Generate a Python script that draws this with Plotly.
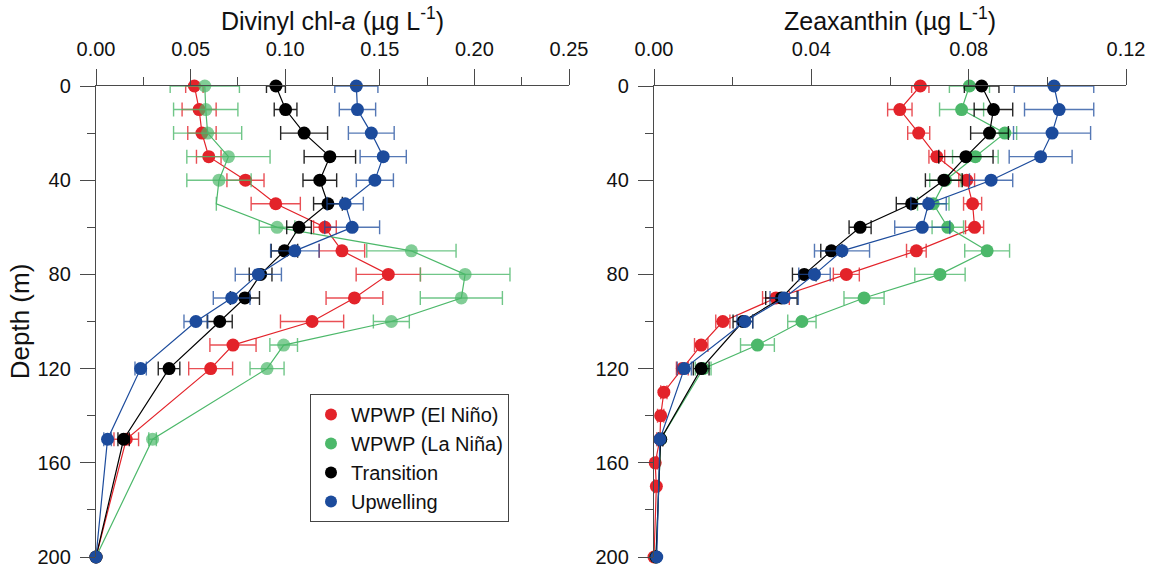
import plotly.graph_objects as go

W, H = 1157, 569

# ---- Divinyl chl-a (µg L-1) profiles ----
dv_depth_red = [0, 10, 20, 30, 40, 50, 60, 70, 80, 90, 100, 110, 120, 150, 200]
dv_red = [0.052, 0.0545, 0.056, 0.0596, 0.079, 0.095, 0.121, 0.130, 0.1545, 0.1366, 0.1142, 0.0724, 0.0606, 0.016, 0.0]
dv_red_err = [0.0046, 0.009, 0.0075, 0.0065, 0.0098, 0.013, 0.006, 0.012, 0.017, 0.015, 0.0167, 0.0122, 0.0116, 0.0065, None]

dv_depth_green = [0, 10, 20, 30, 40, 50, 60, 70, 80, 90, 100, 110, 120, 150, 200]
dv_green = [0.0575, 0.058, 0.059, 0.070, 0.065, 0.0636, 0.0957, 0.1667, 0.1951, 0.1931, 0.1561, 0.0992, 0.0904, 0.0299, 0.0]
dv_green_err = [0.0183, 0.017, 0.018, 0.022, 0.017, None, 0.0094, 0.0236, 0.0237, 0.0217, 0.0095, 0.0073, 0.009, 0.002, None]
dv_green_shown = [1, 1, 1, 1, 1, 0, 1, 1, 1, 1, 1, 1, 1, 1, 1]

dv_depth_black = [0, 10, 20, 30, 40, 50, 60, 70, 80, 90, 100, 120, 150, 200]
dv_black = [0.0951, 0.1002, 0.110, 0.1236, 0.1183, 0.1226, 0.1073, 0.0996, 0.087, 0.0787, 0.0654, 0.0386, 0.0146, 0.0]
dv_black_err = [0.005, 0.006, 0.0124, 0.0136, 0.0089, 0.0076, 0.0065, 0.007, 0.006, 0.0077, 0.0066, 0.0057, 0.003, None]

dv_depth_blue = [0, 10, 20, 30, 40, 50, 60, 70, 80, 90, 100, 120, 150, 200]
dv_blue = [0.1376, 0.1382, 0.1455, 0.1518, 0.1474, 0.1317, 0.1354, 0.1051, 0.0858, 0.0717, 0.0528, 0.0236, 0.0061, 0.0]
dv_blue_err = [0.0114, 0.0096, 0.0121, 0.0122, 0.0098, 0.0096, 0.0145, 0.0128, 0.0122, 0.0097, 0.0063, 0.003, 0.002, None]

# ---- Zeaxanthin (µg L-1) profiles ----
zx_depth_red = [0, 10, 20, 30, 40, 50, 60, 70, 80, 90, 100, 110, 120, 130, 140, 150, 160, 170, 200]
zx_red = [0.0677, 0.0625, 0.0673, 0.0719, 0.0795, 0.081, 0.0815, 0.0667, 0.0489, 0.031, 0.0175, 0.012, 0.0072,
          0.0025, 0.0017, 0.0015, 0.0003, 0.0006, 0.0]
zx_red_err = [0.0022, 0.0031, 0.0028, 0.002, 0.002, 0.0023, 0.0023, 0.0025, 0.0033, 0.0034, 0.0018, 0.0017, 0.0015,
              0.0008, 0.0008, 0.0008, 0.0005, 0.0005, None]

zx_depth_green = [0, 10, 20, 30, 40, 50, 60, 70, 80, 90, 100, 110, 120, 150, 200]
zx_green = [0.0802, 0.0782, 0.0892, 0.0817, 0.0741, 0.071, 0.0747, 0.0847, 0.0727, 0.0534, 0.0376, 0.0263, 0.0125, 0.0017, 0.0005]
zx_green_err = [0.0051, 0.0056, 0.003, 0.0058, 0.004, 0.004, 0.004, 0.0057, 0.0064, 0.0051, 0.0036, 0.0043, 0.002, 0.0005, None]

zx_depth_black = [0, 10, 20, 30, 40, 50, 60, 70, 80, 90, 100, 120, 150, 200]
zx_black = [0.0833, 0.0863, 0.0853, 0.0793, 0.0737, 0.0655, 0.0524, 0.0451, 0.0382, 0.0324, 0.0226, 0.012, 0.0017, 0.0005]
zx_black_err = [0.0044, 0.0049, 0.0048, 0.0069, 0.0047, 0.0039, 0.0028, 0.0027, 0.003, 0.004, 0.0025, 0.002, 0.0005, None]

zx_depth_blue = [0, 10, 20, 30, 40, 50, 60, 70, 80, 90, 100, 120, 150, 200]
zx_blue = [0.1017, 0.103, 0.1012, 0.0983, 0.0857, 0.0698, 0.0682, 0.0478, 0.0408, 0.0331, 0.0231, 0.0077, 0.0015, 0.0007]
zx_blue_err = [0.0101, 0.0088, 0.0098, 0.008, 0.0055, 0.0045, 0.007, 0.007, 0.004, 0.0036, 0.002, 0.0018, 0.0005, None]

series_names = ["WPWP (El Niño)", "WPWP (La Niña)", "Transition", "Upwelling"]
series_colors = ["#e3232a", "#4cb86a", "#000000", "#1c4b9c"]
errbar_colors = ["rgba(227,35,42,0.8)", "rgba(76,184,106,0.8)", "rgba(0,0,0,0.85)", "rgba(28,75,156,0.75)"]

FONT = "Arial, Liberation Sans, sans-serif"
AX_COLOR = "#4a4a4a"
MSIZE = 13

fig = go.Figure()


def add_profile(values, depths, errors, color, ecolor, xa, ya, shown=None):
    sizes = MSIZE if shown is None else [MSIZE * s for s in shown]
    fig.add_trace(go.Scatter(
        x=values, y=depths, xaxis=xa, yaxis=ya,
        mode="lines+markers",
        line=dict(color=color, width=1.2),
        marker=dict(color=color, size=sizes, line=dict(width=0)),
        error_x=dict(type="data", array=errors, visible=True, color=ecolor,
                     thickness=1.4, width=7),
        cliponaxis=False, showlegend=False, hoverinfo="x+y",
    ))


dv_sets = [
    (dv_red, dv_depth_red, dv_red_err, None),
    (dv_green, dv_depth_green, dv_green_err, dv_green_shown),
    (dv_black, dv_depth_black, dv_black_err, None),
    (dv_blue, dv_depth_blue, dv_blue_err, None),
]
zx_sets = [
    (zx_red, zx_depth_red, zx_red_err),
    (zx_green, zx_depth_green, zx_green_err),
    (zx_black, zx_depth_black, zx_black_err),
    (zx_blue, zx_depth_blue, zx_blue_err),
]

for (v, d, e, s), c, ec in zip(dv_sets, series_colors, errbar_colors):
    add_profile(v, d, e, c, ec, "x", "y", s)
for (v, d, e), c, ec in zip(zx_sets, series_colors, errbar_colors):
    add_profile(v, d, e, c, ec, "x2", "y2")

# marker-only legend entries
for name, c in zip(series_names, series_colors):
    fig.add_trace(go.Scatter(
        x=[None], y=[None], xaxis="x", yaxis="y", mode="markers", name=name,
        marker=dict(color=c, size=MSIZE), showlegend=True,
    ))

# plot-area placement in pixels
LX0, LX1 = 96, 569
RX0, RX1 = 654, 1126
YT, YB = 86, 557

common_x = dict(
    side="top", showline=True, linecolor=AX_COLOR, linewidth=1.3,
    ticks="outside", ticklen=16, tickcolor=AX_COLOR, tickwidth=1.3,
    showgrid=False, zeroline=False, automargin=False, ticklabelstandoff=5,
    tickfont=dict(family=FONT, size=20, color="#111"),
    title_font=dict(family=FONT, size=25, color="#111"),
)
common_y = dict(
    range=[200, 0], showline=True, linecolor=AX_COLOR, linewidth=1.3,
    ticks="outside", ticklen=15, tickcolor=AX_COLOR, tickwidth=1.3,
    tickvals=[0, 40, 80, 120, 160, 200],
    minor=dict(tickvals=[20, 60, 100, 140, 180], ticks="outside", ticklen=8, tickcolor=AX_COLOR, tickwidth=1.3),
    showgrid=False, zeroline=False, automargin=False, ticklabelstandoff=5,
    tickfont=dict(family=FONT, size=20, color="#111"),
    title_font=dict(family=FONT, size=26, color="#111"),
)

fig.update_layout(
    width=W, height=H,
    margin=dict(l=0, r=0, t=0, b=0),
    paper_bgcolor="white", plot_bgcolor="white",
    font=dict(family=FONT, color="#111"),
    xaxis=dict(common_x, domain=[LX0 / W, LX1 / W], anchor="y",
               range=[0, 0.25], tickvals=[0, 0.05, 0.10, 0.15, 0.20, 0.25],
               tickformat=".2f",
               minor=dict(tickvals=[0.025, 0.075, 0.125, 0.175, 0.225], ticks="outside",
                          ticklen=8, tickcolor=AX_COLOR, tickwidth=1.3),
               title=dict(text="Divinyl chl-<i>a</i> (µg L<sup>-1</sup>)", standoff=0)),
    xaxis2=dict(common_x, domain=[RX0 / W, RX1 / W], anchor="y2",
                range=[0, 0.12], tickvals=[0, 0.04, 0.08, 0.12], tickformat=".2f",
                minor=dict(tickvals=[0.02, 0.06, 0.10], ticks="outside",
                           ticklen=8, tickcolor=AX_COLOR, tickwidth=1.3),
                title=dict(text="Zeaxanthin (µg L<sup>-1</sup>)", standoff=0)),
    yaxis=dict(common_y, domain=[1 - YB / H, 1 - YT / H], anchor="x",
               title=dict(text="Depth (m)", standoff=0)),
    yaxis2=dict(common_y, domain=[1 - YB / H, 1 - YT / H], anchor="x2"),
    legend=dict(
        x=310 / W, y=1 - 394 / H, xanchor="left", yanchor="top",
        bordercolor="#444", borderwidth=1, bgcolor="white",
        font=dict(family=FONT, size=20, color="#111"),
        tracegroupgap=0, itemsizing="constant",
    ),
)

fig.write_html("out.html")
